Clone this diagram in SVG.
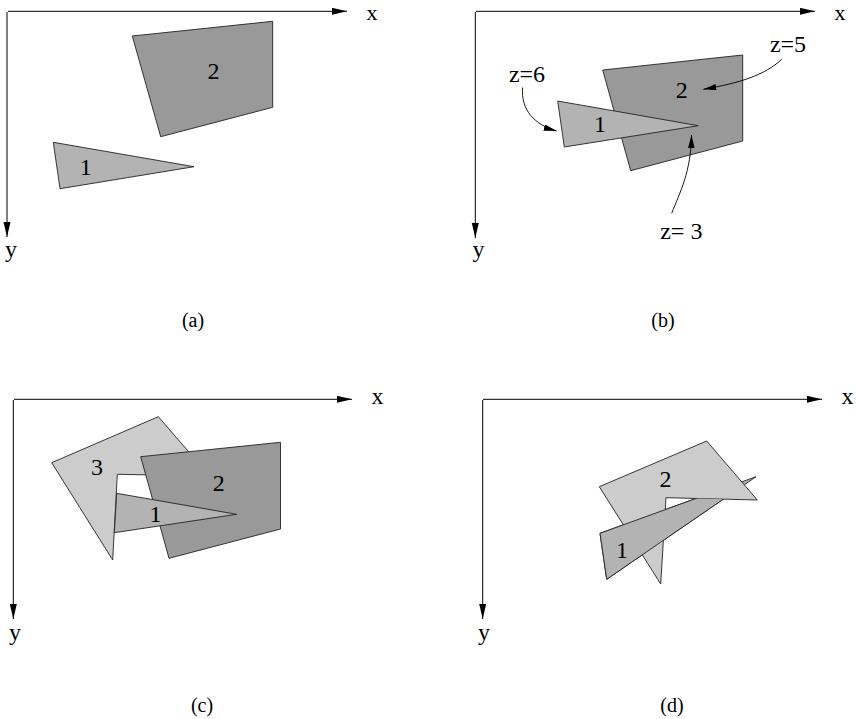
<svg xmlns="http://www.w3.org/2000/svg" width="856" height="719" viewBox="0 0 856 719">
<style>
  text { font-family: "Liberation Serif", "Times New Roman", serif; fill: #000; }
  .lbl { font-size: 24px; text-anchor: middle; }
  .axl { font-size: 22px; text-anchor: middle; }
  .cap { font-size: 20px; text-anchor: middle; }
  .axis { stroke: #000; stroke-width: 1; fill: none; marker-end: url(#axArrow); }
  .poly { stroke: #222; stroke-width: 0.9; stroke-linejoin: miter; }
  .dark { fill: #999999; }
  .mid { fill: #b3b3b3; }
  .light { fill: #cccccc; }
  .conn { stroke: #000; stroke-width: 0.9; fill: none; marker-end: url(#cArrow); }
</style>
<defs>
  <marker id="axArrow" markerUnits="userSpaceOnUse" markerWidth="16" markerHeight="8" refX="15" refY="3.5" orient="auto">
    <path d="M0,0 L15,3.5 L0,7 z" fill="#000"/>
  </marker>
  <marker id="cArrow" markerUnits="userSpaceOnUse" markerWidth="14" markerHeight="8" refX="13" refY="3.25" orient="auto">
    <path d="M0,0 L13,3.25 L0,6.5 z" fill="#000"/>
  </marker>
  <clipPath id="clipD">
    <polygon points="560,495.0 800,501.1 800,620 560,620"/>
  </clipPath>
</defs>
<rect width="856" height="719" fill="#fff"/>

<!-- Axes -->
<g id="axes">
  <line class="axis" x1="8" y1="11.3" x2="347" y2="11.3"/>
  <line class="axis" x1="7" y1="12" x2="7" y2="237"/>
  <line class="axis" x1="476" y1="11.3" x2="815" y2="11.3"/>
  <line class="axis" x1="475.3" y1="12" x2="475.3" y2="238"/>
  <line class="axis" x1="14" y1="399.3" x2="352" y2="399.3"/>
  <line class="axis" x1="13.3" y1="400" x2="13.3" y2="619"/>
  <line class="axis" x1="483" y1="399.3" x2="822" y2="399.3"/>
  <line class="axis" x1="482.7" y1="400" x2="482.7" y2="619"/>
  <text class="axl" x="372" y="20">x</text>
  <text class="lbl" x="11" y="257">y</text>
  <text class="axl" x="840" y="20">x</text>
  <text class="lbl" x="478.5" y="257">y</text>
  <text class="lbl" x="377.5" y="404">x</text>
  <text class="lbl" x="15" y="640">y</text>
  <text class="lbl" x="847.5" y="404">x</text>
  <text class="lbl" x="484" y="640">y</text>
</g>

<!-- Panel (a) -->
<g id="panel-a">
  <g id="a-poly2">
    <polygon class="poly dark" points="132.3,36 272.7,21.3 272.7,107.3 160.7,136.7"/>
    <text class="lbl" x="213.5" y="79">2</text>
  </g>
  <g id="a-tri1">
    <polygon class="poly mid" points="53.3,142.3 194,166.7 60,188.7"/>
    <text class="lbl" x="85.7" y="175">1</text>
  </g>
  <text class="cap" x="193" y="327">(a)</text>
</g>

<!-- Panel (b) -->
<g id="panel-b">
  <g id="b-poly2">
    <polygon class="poly dark" points="602.7,70 742.7,55 742.7,141 630.7,170.7"/>
    <text class="lbl" x="681.8" y="98.3">2</text>
  </g>
  <g id="b-tri1">
    <polygon class="poly mid" points="557.7,101 698.3,125.7 564.3,147"/>
    <text class="lbl" x="600" y="131.7">1</text>
  </g>
  <g id="b-z6"><text class="lbl" x="527" y="81.7">z=6</text></g>
  <g id="b-z5"><text class="lbl" x="788" y="51.7">z=5</text></g>
  <g id="b-z3"><text class="lbl" x="681.3" y="239.3">z= 3</text></g>
  <text class="cap" x="663" y="327">(b)</text>
</g>

<g id="connectors">
  <path class="conn" d="M522.7,87.5 C520.5,110 535,125 556.7,131"/>
  <path class="conn" d="M781.7,59.3 C765,75 740,83 703.3,89.3"/>
  <path class="conn" d="M671.7,213.3 C680,192 691,172 691.5,135"/>
</g>

<!-- Panel (c) -->
<g id="panel-c">
  <g id="c-poly3">
    <polygon class="poly light" points="51.7,462.7 158.3,416.7 209.7,476 117.3,474.3 112.7,560"/>
    <text class="lbl" x="97" y="475">3</text>
  </g>
  <g id="c-poly2">
    <polygon class="poly dark" points="140.7,456.7 280.5,442.3 280.5,529 169,558.3"/>
    <text class="lbl" x="218.7" y="490.7">2</text>
  </g>
  <g id="c-tri1">
    <polygon class="poly mid" points="116.7,493.3 236.7,514.3 114.3,532.7"/>
    <text class="lbl" x="155.5" y="521.7">1</text>
  </g>
  <text class="cap" x="202" y="712">(c)</text>
</g>

<!-- Panel (d) -->
<g id="panel-d">
  <g id="d-tri1-back">
    <polygon class="poly mid" points="600,533.3 756,476.7 606.7,579.3"/>
  </g>
  <g id="d-poly2">
    <polygon class="poly light" points="599.3,486.7 706.7,441 757.3,500 666,497.7 660.7,584"/>
    <text class="lbl" x="665.5" y="487.3">2</text>
  </g>
  <g id="d-tri1">
    <polygon class="poly mid" clip-path="url(#clipD)" points="600,533.3 756,476.7 606.7,579.3"/>
    <text class="lbl" x="622" y="558.3">1</text>
  </g>
  <text class="cap" x="672" y="712">(d)</text>
</g>
</svg>
